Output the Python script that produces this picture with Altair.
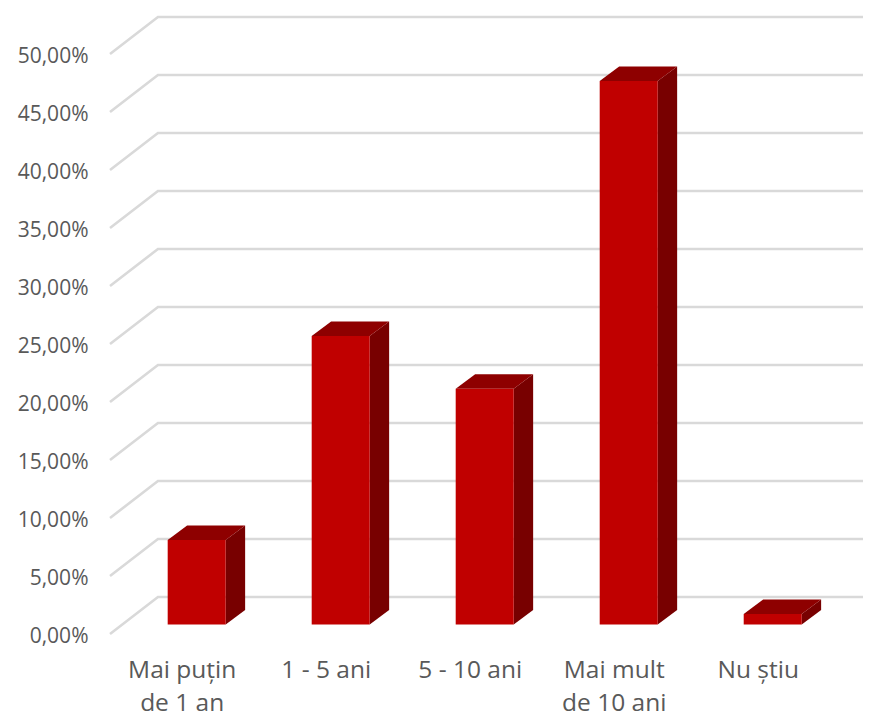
import altair as alt
import pandas as pd

categories = [["Mai puțin", "de 1 an"], ["1 - 5 ani"], ["5 - 10 ani"], ["Mai mult", "de 10 ani"], ["Nu știu"]]
values = [7.28, 24.87, 20.33, 46.85, 0.9]
ticks = [0, 5, 10, 15, 20, 25, 30, 35, 40, 45, 50]

FONT = "Open Sans"
TEXT = "#595959"
GRID = "#D9D9D9"
FRONT = "#C00000"
SIDE = "#780000"
TOP = "#8E0000"

# depth geometry, in axis units
half = 0.2014      # half a bar's width
dx = 0.135         # bar depth on x
dy = 1.25          # bar depth on y
lift = 0.82        # bar base above the front floor edge
wall_x = 0.333     # wall offset on x
wall_y = 3.19      # wall offset on y
x_dom = [-0.602, 4.627]
y_dom = [0, 53.19]

front, side, top, grid = [], [], [], []
for i, v in enumerate(values):
    l, r = i - half, i + half
    b, t = lift, lift + v
    front.append(dict(x=l, x2=r, y=b, y2=t))
    side += [dict(k=i, x=r, y=b, y2=t), dict(k=i, x=r + dx, y=b + dy, y2=t + dy)]
    top += [dict(k=i, x=l, y=t, y2=t),
            dict(k=i, x=l + dx, y=t, y2=t + dy),
            dict(k=i, x=r, y=t, y2=t + dy),
            dict(k=i, x=r + dx, y=t + dy, y2=t + dy)]
for v in ticks:
    grid += [dict(k=v, o=0, x=x_dom[0], y=v),
             dict(k=v, o=1, x=x_dom[0] + wall_x, y=v + wall_y),
             dict(k=v, o=2, x=x_dom[1], y=v + wall_y)]

label_expr = "[" + ",".join("[" + ",".join(f"'{p}'" for p in c) + "]" for c in categories) + "][datum.value]"

X = alt.X("x:Q", scale=alt.Scale(domain=x_dom, nice=False, zero=False),
          axis=alt.Axis(values=list(range(len(categories))), labelExpr=label_expr, title=None,
                        domain=False, ticks=False, grid=False, labelFont=FONT, labelFontSize=24.5,
                        labelColor=TEXT, labelOffset=-15, labelPadding=36, labelLineHeight=33,
                        labelBaseline="middle", labelOverlap=False, labelFlush=False))
Y = alt.Y("y:Q", scale=alt.Scale(domain=y_dom, nice=False, zero=False),
          axis=alt.Axis(values=ticks, labelExpr="replace(format(datum.value,'.2f'),'.',',')+'%'", title=None,
                        domain=False, ticks=False, grid=False, labelFont=FONT, labelFontSize=21,
                        labelColor=TEXT, labelPadding=22, labelOffset=2))

grid_layer = alt.Chart(pd.DataFrame(grid)).mark_line(color=GRID, strokeWidth=2.6).encode(
    x=X, y=Y, detail="k:N", order="o:Q")
side_layer = alt.Chart(pd.DataFrame(side)).mark_area(color=SIDE).encode(
    x=alt.X("x:Q"), y=alt.Y("y:Q"), y2="y2:Q", detail="k:N")
top_layer = alt.Chart(pd.DataFrame(top)).mark_area(color=TOP).encode(
    x=alt.X("x:Q"), y=alt.Y("y:Q"), y2="y2:Q", detail="k:N")
front_layer = alt.Chart(pd.DataFrame(front)).mark_rect(color=FRONT).encode(
    x=alt.X("x:Q"), x2="x2:Q", y=alt.Y("y:Q"), y2="y2:Q")

chart = alt.layer(grid_layer, side_layer, top_layer, front_layer).properties(
    width=753, height=617,
    autosize=alt.AutoSizeParams(type="none"),
    padding={"left": 102, "top": 9, "right": 0, "bottom": 83},
    background="white",
).configure_view(stroke=None)

chart.save("out.html", embed_options={"renderer": "svg", "actions": False})
